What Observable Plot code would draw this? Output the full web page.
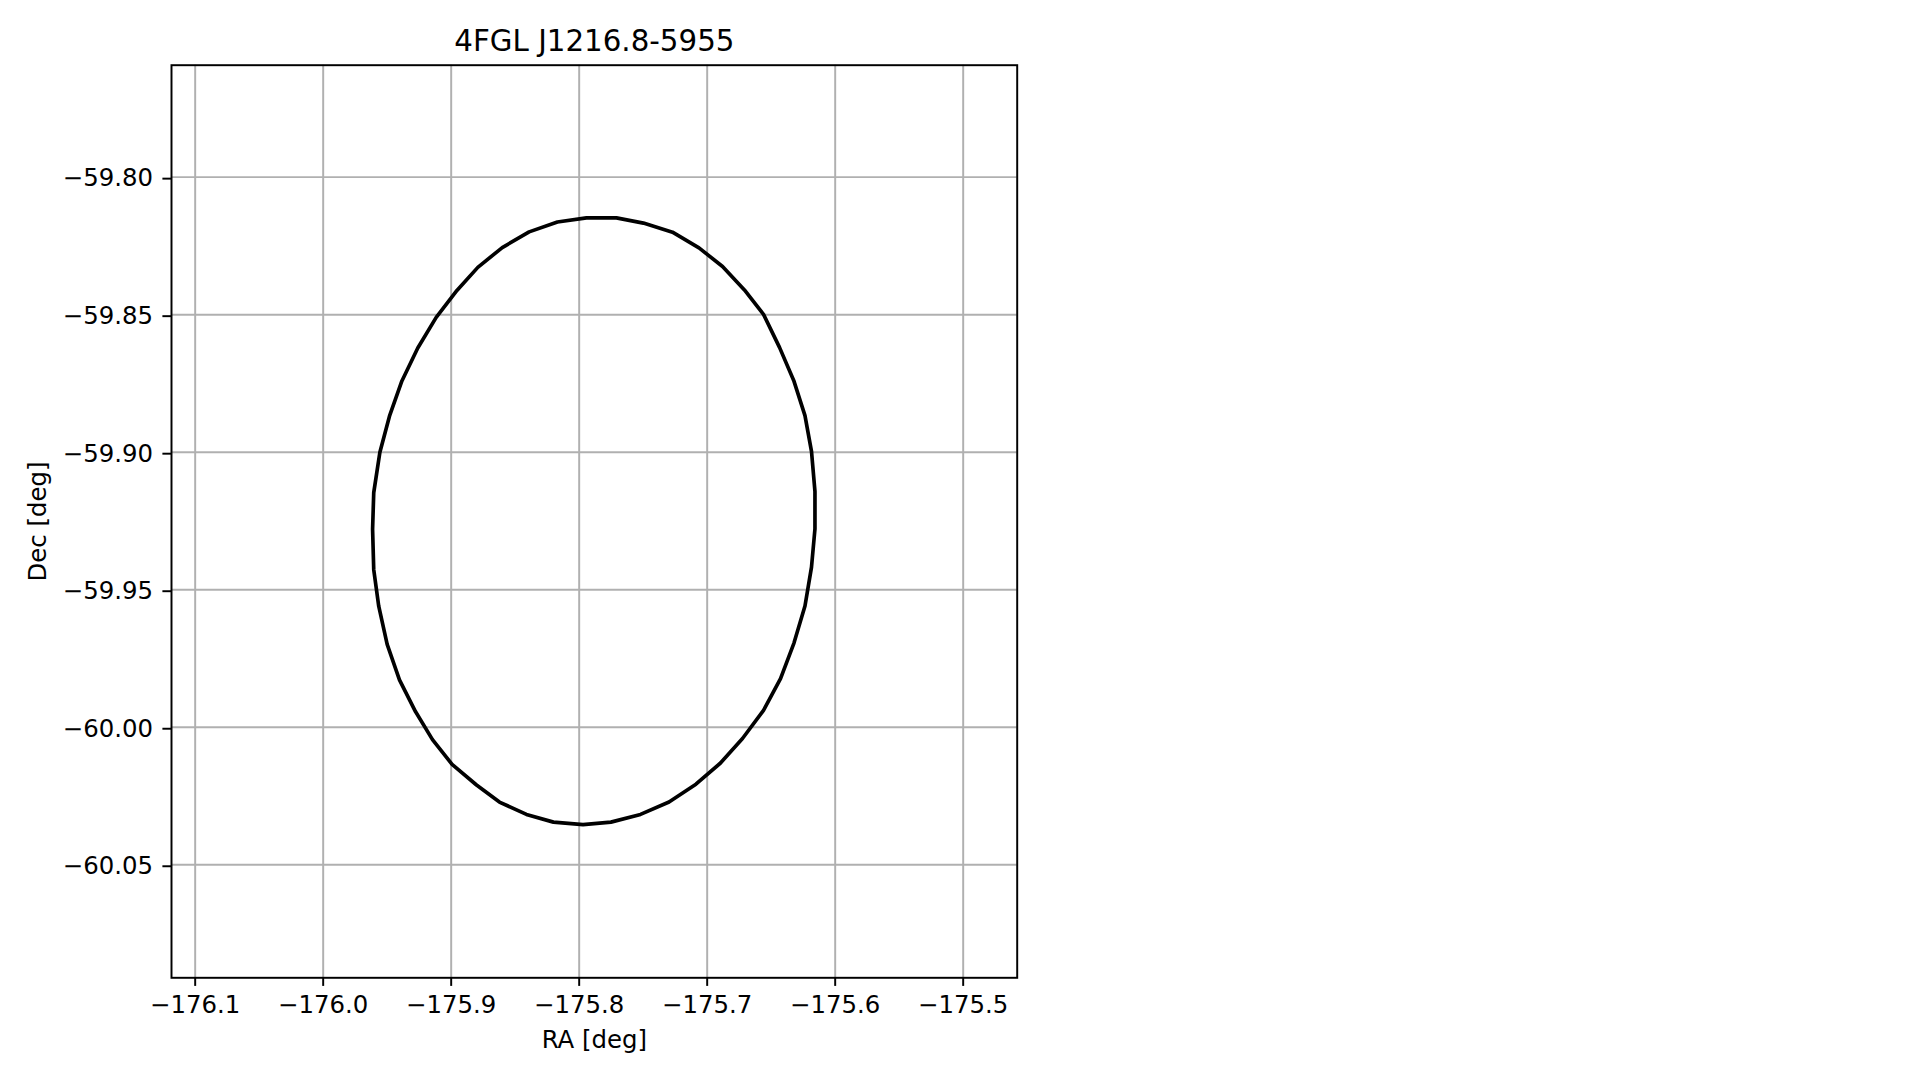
<!DOCTYPE html>
<html>
<head>
<meta charset="utf-8">
<script src="https://cdn.jsdelivr.net/npm/d3@7"></script>
<script src="https://cdn.jsdelivr.net/npm/@observablehq/plot@0.6"></script>
<style>
  html, body { margin: 0; padding: 0; background: #ffffff; overflow: hidden; }
  #chart { width: 1919px; height: 1080px; }
</style>
</head>
<body>
<div id="chart"></div>
<script>
// Title and axis labels
const chartTitle = "4FGL J1216.8-5955";
const xLabel = "RA [deg]";
const yLabel = "Dec [deg]";

// Axis limits and ticks
const xDomain = [-176.1185, -175.4578];
const yDomain = [-60.0911, -59.7593];
const xTicks = [-176.1, -176.0, -175.9, -175.8, -175.7, -175.6, -175.5];
const yTicks = [-59.80, -59.85, -59.90, -59.95, -60.00, -60.05];

// Error-ellipse outline vertices
const ellipseRA = [
  -175.7943, -175.7709, -175.7498, -175.7271, -175.7064, -175.6880, -175.6709,
  -175.6560, -175.6435, -175.6324, -175.6236, -175.6185, -175.6158, -175.6158,
  -175.6185, -175.6236, -175.6322, -175.6427, -175.6560, -175.6724, -175.6896,
  -175.7088, -175.7298, -175.7521, -175.7752, -175.7970, -175.8201, -175.8412,
  -175.8623, -175.8802, -175.8993, -175.9146, -175.9279, -175.9404, -175.9500,
  -175.9566, -175.9605, -175.9614, -175.9605, -175.9557, -175.9480, -175.9385,
  -175.9261, -175.9117, -175.8955, -175.8792, -175.8601, -175.8391, -175.8170,
  -175.7943
];
const ellipseDec = [
  -59.8148, -59.8148, -59.8167, -59.8200, -59.8257, -59.8325, -59.8410,
  -59.8499, -59.8619, -59.8739, -59.8867, -59.8997, -59.9143, -59.9279,
  -59.9418, -59.9559, -59.9694, -59.9823, -59.9939, -60.0041, -60.0130,
  -60.0207, -60.0272, -60.0317, -60.0345, -60.0354, -60.0345, -60.0317,
  -60.0272, -60.0210, -60.0135, -60.0045, -59.9943, -59.9828, -59.9699,
  -59.9560, -59.9427, -59.9280, -59.9147, -59.9000, -59.8866, -59.8741,
  -59.8621, -59.8510, -59.8412, -59.8328, -59.8256, -59.8199, -59.8163,
  -59.8148
];

const ellipse = ellipseRA.map((ra, i) => ({ra, dec: ellipseDec[i]}));

const tickFont = 24.4;
const titleFont = 29.3;
const lw = 1.96;

const plot = Plot.plot({
  width: 1919,
  height: 1080,
  marginLeft: 171,
  marginRight: 902.3,
  marginTop: 64.7,
  marginBottom: 102.7,
  style: {
    fontFamily: "'DejaVu Sans', sans-serif",
    fontSize: tickFont + "px",
    color: "black",
    background: "white",
    overflow: "visible"
  },
  x: { domain: xDomain },
  y: { domain: yDomain },
  marks: [
    Plot.gridX(xTicks, { stroke: "#b0b0b0", strokeOpacity: 1, strokeWidth: lw }),
    Plot.gridY(yTicks, { stroke: "#b0b0b0", strokeOpacity: 1, strokeWidth: lw }),
    Plot.line(ellipse, {
      x: "ra", y: "dec", stroke: "black", strokeWidth: 3.67,
      strokeLinejoin: "round", curve: "linear"
    }),
    Plot.frame({ stroke: "black", strokeWidth: lw }),
    Plot.axisX(xTicks, {
      anchor: "bottom", label: null, tickSize: 8.6, tickPadding: 9.5,
      strokeWidth: lw, tickFormat: d3.format(".1f"), fontSize: tickFont
    }),
    Plot.axisY(yTicks, {
      anchor: "left", label: null, tickSize: 8.6, tickPadding: 9.9,
      strokeWidth: lw, tickFormat: d3.format(".2f"), fontSize: tickFont, dy: 1.5
    }),
    Plot.text([chartTitle], {
      text: d => d, frameAnchor: "top", textAnchor: "middle", lineAnchor: "top",
      dy: -35.5, fontSize: titleFont, fill: "black"
    }),
    Plot.text([xLabel], {
      text: d => d, frameAnchor: "bottom", textAnchor: "middle", lineAnchor: "bottom",
      dy: 69.7, fontSize: tickFont, fill: "black"
    }),
    Plot.text([yLabel], {
      text: d => d, frameAnchor: "left", textAnchor: "middle", lineAnchor: "middle",
      dx: -133.8, rotate: -90, fontSize: tickFont, fill: "black"
    })
  ]
});

document.getElementById("chart").appendChild(plot);
</script>
</body>
</html>
